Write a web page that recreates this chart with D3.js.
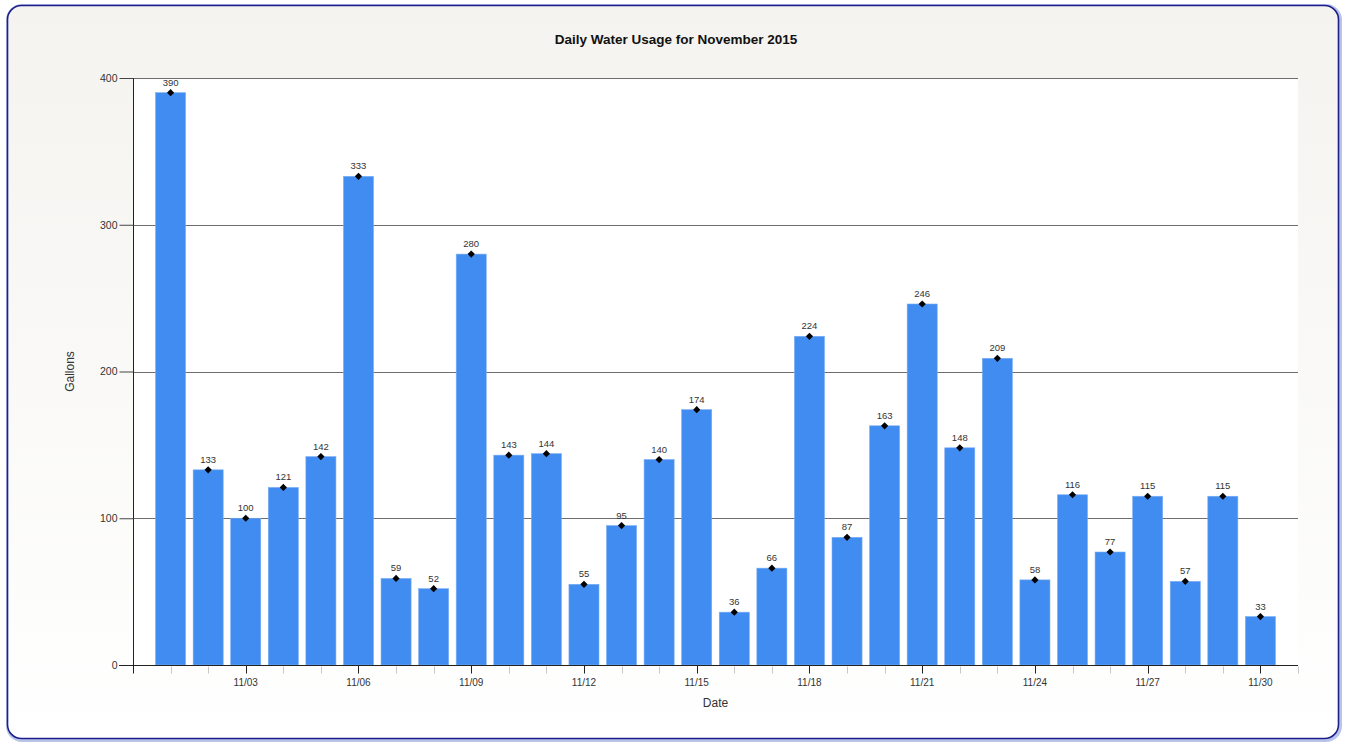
<!DOCTYPE html>
<html>
<head>
<meta charset="utf-8">
<script src="https://cdn.jsdelivr.net/npm/d3@7"></script>
<style>
  html, body { margin: 0; padding: 0; background: #ffffff; }
  svg text { font-family: "Liberation Sans", Arial, sans-serif; fill: #222; }
</style>
</head>
<body>
<div id="chart"></div>
<script>
// daily usage, November 2015
const days = d3.range(1, 31);
const gallons = [390, 133, 100, 121, 142, 333, 59, 52, 280, 143, 144, 55, 95, 140, 174,
                 36, 66, 224, 87, 163, 246, 148, 209, 58, 116, 77, 115, 57, 115, 33];
const yTicks = [0, 100, 200, 300, 400];
const majorDays = d3.range(0, 31, 3);

const W = 1346, H = 742;
const pad = {l: 133, r: 48, t: 78, b: 77};

const svg = d3.select('#chart').append('svg')
  .attr('width', W)
  .attr('height', H);

const defs = svg.append('defs');
const grad = defs.append('linearGradient')
  .attr('id', 'bg').attr('x1', 0).attr('y1', 0).attr('x2', 0).attr('y2', 1);
grad.append('stop').attr('offset', '0%').attr('stop-color', '#f4f3ef');
grad.append('stop').attr('offset', '100%').attr('stop-color', '#ffffff');

// outer frame with soft shadow
svg.append('rect')
  .attr('x', 8).attr('y', 6).attr('width', W - 14).attr('height', H - 8)
  .attr('rx', 14)
  .attr('fill', 'none').attr('stroke', '#b9c4e8').attr('stroke-width', 4);
svg.append('rect')
  .attr('x', 7.5).attr('y', 5.5).attr('width', W - 15).attr('height', H - 9)
  .attr('rx', 14)
  .attr('fill', 'url(#bg)').attr('stroke', '#1c1f8c').attr('stroke-width', 1.6);

const x = d3.scaleLinear().domain([0, 31]).range([pad.l, W - pad.r]);
const y = d3.scaleLinear().domain([0, 400]).range([H - pad.b, pad.t]);
const step = x(1) - x(0);
const barW = step * 0.8;

// plot area
svg.append('rect')
  .attr('x', x(0)).attr('y', y(400))
  .attr('width', x(31) - x(0)).attr('height', y(0) - y(400))
  .attr('fill', '#ffffff');

// gridlines
svg.append('g').selectAll('line')
  .data(yTicks.filter(v => v > 0))
  .join('line')
  .attr('x1', x(0)).attr('x2', x(31))
  .attr('y1', d => Math.round(y(d)) + 0.5).attr('y2', d => Math.round(y(d)) + 0.5)
  .attr('stroke', '#6e6e6e').attr('stroke-width', 1);

// bars
svg.append('g').selectAll('rect')
  .data(days)
  .join('rect')
  .attr('x', d => x(d) - barW / 2)
  .attr('y', (d, i) => y(gallons[i]))
  .attr('width', barW)
  .attr('height', (d, i) => y(0) - y(gallons[i]))
  .attr('fill', '#418cf0')
  .attr('stroke', '#7aaef5').attr('stroke-width', 0.6);

// markers (square diamonds) and value labels
svg.append('g').selectAll('path')
  .data(days)
  .join('path')
  .attr('d', 'M0,-3.6L3.6,0L0,3.6L-3.6,0Z')
  .attr('transform', (d, i) => `translate(${x(d)}, ${y(gallons[i])})`)
  .attr('fill', '#000');

svg.append('g').selectAll('text')
  .data(days)
  .join('text')
  .attr('x', d => x(d))
  .attr('y', (d, i) => y(gallons[i]) - 7)
  .attr('text-anchor', 'middle')
  .attr('font-size', 9.5)
  .style('fill', '#333')
  .text((d, i) => gallons[i]);

// y axis
const yAxis = svg.append('g')
  .attr('transform', `translate(${pad.l + 0.5}, 0)`)
  .call(d3.axisLeft(y).tickValues(yTicks).tickSize(14).tickPadding(2));
yAxis.select('.domain').attr('stroke', '#222')
  .attr('d', `M0,${y(400)}V${y(0) + 8}`);
yAxis.selectAll('.tick line').attr('stroke', '#444');
yAxis.selectAll('.tick text').attr('font-size', 10.5).style('fill', '#333')
  .attr('font-family', '"Liberation Sans", Arial, sans-serif');

// x axis: minor ticks every day, major every third day
const xg = svg.append('g').attr('transform', `translate(0, ${Math.round(y(0)) + 0.5})`);
xg.append('line')
  .attr('x1', x(0) - 14).attr('x2', x(31))
  .attr('stroke', '#222');
xg.selectAll('.minor')
  .data(d3.range(0, 32).filter(d => !majorDays.includes(d)))
  .join('line')
  .attr('class', 'minor')
  .attr('x1', d => Math.round(x(d)) + 0.5).attr('x2', d => Math.round(x(d)) + 0.5)
  .attr('y1', 1).attr('y2', 8)
  .attr('stroke', '#c8c8c8');
xg.selectAll('.major')
  .data(majorDays)
  .join('line')
  .attr('class', 'major')
  .attr('x1', d => Math.round(x(d)) + 0.5).attr('x2', d => Math.round(x(d)) + 0.5)
  .attr('y1', 0).attr('y2', 8)
  .attr('stroke', '#222');
xg.selectAll('text')
  .data(majorDays.filter(d => d > 0))
  .join('text')
  .attr('x', d => x(d))
  .attr('y', 20)
  .attr('text-anchor', 'middle')
  .attr('font-size', 10)
  .style('fill', '#333')
  .text(d => '11/' + String(d).padStart(2, '0'));

// titles
svg.append('text')
  .attr('x', 676).attr('y', 44)
  .attr('text-anchor', 'middle')
  .attr('font-size', 13.5).attr('font-weight', 'bold')
  .style('fill', '#111')
  .text('Daily Water Usage for November 2015');

svg.append('text')
  .attr('x', x(15.5)).attr('y', 707)
  .attr('text-anchor', 'middle')
  .attr('font-size', 12)
  .style('fill', '#333')
  .text('Date');

svg.append('text')
  .attr('transform', `translate(74, ${y(200)}) rotate(-90)`)
  .attr('text-anchor', 'middle')
  .attr('font-size', 12)
  .style('fill', '#333')
  .text('Gallons');
</script>
</body>
</html>
